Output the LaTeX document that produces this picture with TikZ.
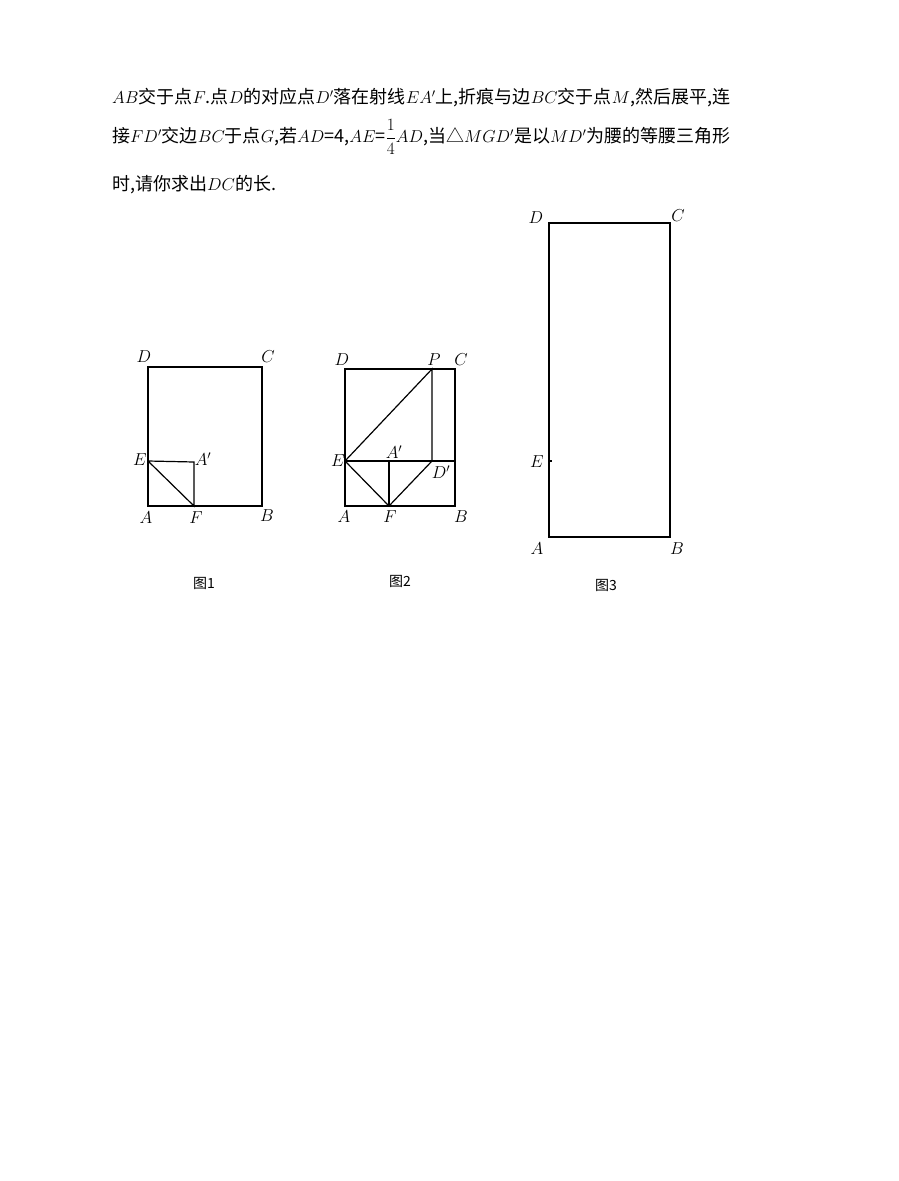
\documentclass[tikz,border=0pt]{standalone}
\usepackage{fontspec}
\newfontfamily\cjk{Noto Sans CJK SC}
\begin{document}
\begin{tikzpicture}[x=1pt,y=-1pt,
  lab/.style={font=\fontsize{16.5}{16}\selectfont\itshape},
  txt/.style={anchor=west,font=\fontsize{18}{20}\selectfont\cjk,inner sep=0},
  figcap/.style={font=\fontsize{14}{14}\selectfont\cjk},
  ln/.style={line width=1.2pt}]
\useasboundingbox (0,0) rectangle (899,1181);
\node[txt] (t1) at (112,98) {$AB$交于点$F$.点$D$的对应点$D'$落在射线$EA'$上,折痕与边$BC$交于点$M$,然后展平,连};
\node[txt] (t2) at (112,137) {接$FD'$交边$BC$于点$G$,若$AD$=4,$AE$=$\displaystyle\frac{1}{4}$$AD$,当△$MGD'$是以$MD'$为腰的等腰三角形};
\node[txt] (t3) at (112,185) {时,请你求出$DC$的长.};
% Figure 1
\coordinate (A1) at (148,506); \coordinate (B1) at (262,506);
\coordinate (C1) at (262,367); \coordinate (D1) at (148,367);
\coordinate (E1) at (148,461); \coordinate (Ap1) at (194,462); \coordinate (F1) at (194,506);
\draw[ln] (A1) -- (B1) -- (C1) -- (D1) -- cycle;
\draw[ln] (E1) -- (Ap1) -- (F1) -- (E1);
\node[lab] at (144,357) {$D$}; \node[lab] at (268,357) {$C$};
\node[lab] at (146,518) {$A$}; \node[lab] at (267,516) {$B$};
\node[lab] at (140,460) {$E$}; \node[lab] at (203,459) {$A'$}; \node[lab] at (196,518) {$F$};
\node[figcap] at (204,583) {图1};
% Figure 2
\coordinate (A2) at (345,506); \coordinate (B2) at (455,506);
\coordinate (C2) at (455,369); \coordinate (D2) at (345,369);
\coordinate (P2) at (432,369); \coordinate (E2) at (345,461);
\coordinate (Ap2) at (389,461); \coordinate (Dp2) at (432,461);
\coordinate (F2) at (389,506); \coordinate (R2) at (455,461);
\draw[ln] (A2) -- (B2) -- (C2) -- (D2) -- cycle;
\draw[ln] (E2) -- (P2) -- (Dp2);
\draw[ln] (E2) -- (R2);
\draw[ln] (Ap2) -- (F2);
\draw[ln] (E2) -- (F2) -- (Dp2);
\node[lab] at (342,360) {$D$}; \node[lab] at (434,360) {$P$}; \node[lab] at (461,360) {$C$};
\node[lab] at (338,461) {$E$}; \node[lab] at (394,452) {$A'$}; \node[lab] at (441,472) {$D'$};
\node[lab] at (344,517) {$A$}; \node[lab] at (390,517) {$F$}; \node[lab] at (461,517) {$B$};
\node[figcap] at (400,581) {图2};
% Figure 3
\coordinate (A3) at (549,537); \coordinate (B3) at (670,537);
\coordinate (C3) at (670,223); \coordinate (D3) at (549,223);
\coordinate (E3) at (549,461);
\draw[ln] (A3) -- (B3) -- (C3) -- (D3) -- cycle;
\draw[ln] (E3) -- ++(3,0);
\node[lab] at (536,218) {$D$}; \node[lab] at (678,216) {$C$};
\node[lab] at (537,462) {$E$};
\node[lab] at (537,549) {$A$}; \node[lab] at (677,549) {$B$};
\node[figcap] at (606,585) {图3};
\end{tikzpicture}
\end{document}
